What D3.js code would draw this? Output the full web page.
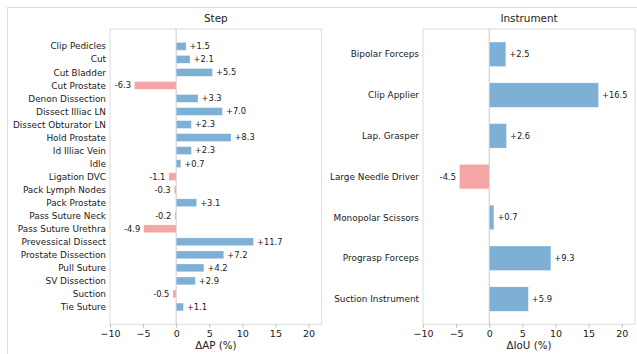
<!DOCTYPE html>
<html>
<head>
<meta charset="utf-8">
<script src="https://cdn.jsdelivr.net/npm/d3@7/dist/d3.min.js"></script>
<style>
  html, body { margin: 0; padding: 0; background: #fff; }
  svg { display: block; font-family: "DejaVu Sans", sans-serif; }
</style>
</head>
<body>
<svg id="chart" width="637" height="354"></svg>
<script>
// Per-phase change in AP
const stepCategories = [
  "Clip Pedicles", "Cut", "Cut Bladder", "Cut Prostate", "Denon Dissection",
  "Dissect Illiac LN", "Dissect Obturator LN", "Hold Prostate", "Id Illiac Vein",
  "Idle", "Ligation DVC", "Pack Lymph Nodes", "Pack Prostate", "Pass Suture Neck",
  "Pass Suture Urethra", "Prevessical Dissect", "Prostate Dissection",
  "Pull Suture", "SV Dissection", "Suction", "Tie Suture"
];
const stepValues = [
  1.5, 2.1, 5.5, -6.3, 3.3, 7.0, 2.3, 8.3, 2.3, 0.7, -1.1, -0.3, 3.1, -0.2,
  -4.9, 11.7, 7.2, 4.2, 2.9, -0.5, 1.1
];

// Per-instrument change in IoU
const instrumentCategories = [
  "Bipolar Forceps", "Clip Applier", "Lap. Grasper", "Large Needle Driver",
  "Monopolar Scissors", "Prograsp Forceps", "Suction Instrument"
];
const instrumentValues = [2.5, 16.5, 2.6, -4.5, 0.7, 9.3, 5.9];

const xTicks = [-10, -5, 0, 5, 10, 15, 20];
const xDomain = [-10, 22];

const svg = d3.select("#chart");

// outer figure frame
svg.append("rect")
  .attr("x", 7.5).attr("y", 7.5)
  .attr("width", 700).attr("height", 400)
  .attr("fill", "none").attr("stroke", "#dedede").attr("stroke-width", 1);

const POS = "#7eb0d6", NEG = "#f4a6a6";
const INK = "#1a1a1a";
const fmt = v => (v > 0 ? "+" : "") + v.toFixed(1);

function panel(opts) {
  const { left, right, top, bottom, cats, vals, title, xlabel, outerPad } = opts;
  const g = svg.append("g");

  const x = d3.scaleLinear().domain(xDomain).range([left, right]);
  const y = d3.scaleBand().domain(cats).range([top, bottom])
    .paddingInner(0.4).paddingOuter(outerPad);

  // frame
  g.append("rect")
    .attr("x", left).attr("y", top)
    .attr("width", right - left).attr("height", bottom - top)
    .attr("fill", "none").attr("stroke", "#dcdcdc").attr("stroke-width", 1);

  // zero line
  g.append("line")
    .attr("x1", x(0)).attr("x2", x(0))
    .attr("y1", top).attr("y2", bottom)
    .attr("stroke", "#c8c8c8").attr("stroke-width", 1);

  // bars
  g.selectAll("rect.bar").data(cats).join("rect")
    .attr("class", "bar")
    .attr("x", (d, i) => x(Math.min(0, vals[i])))
    .attr("y", d => y(d))
    .attr("width", (d, i) => Math.abs(x(vals[i]) - x(0)))
    .attr("height", y.bandwidth())
    .attr("fill", (d, i) => vals[i] >= 0 ? POS : NEG)
    .attr("stroke", "#ffffff").attr("stroke-opacity", 0.5).attr("stroke-width", 0.6);

  // value labels
  g.selectAll("text.val").data(cats).join("text")
    .attr("class", "val")
    .attr("x", (d, i) => x(vals[i]) + (vals[i] >= 0 ? 3.5 : -3.5))
    .attr("y", d => y(d) + y.bandwidth() / 2)
    .attr("dy", "0.35em")
    .attr("text-anchor", (d, i) => vals[i] >= 0 ? "start" : "end")
    .attr("font-size", 8.3)
    .attr("fill", INK)
    .text((d, i) => fmt(vals[i]));

  // category labels
  g.selectAll("text.cat").data(cats).join("text")
    .attr("class", "cat")
    .attr("x", left - 4)
    .attr("y", d => y(d) + y.bandwidth() / 2)
    .attr("dy", "0.35em")
    .attr("text-anchor", "end")
    .attr("font-size", 8.9)
    .attr("fill", INK)
    .text(d => d);

  // x axis
  const ax = g.append("g")
    .attr("transform", `translate(0,${bottom})`)
    .call(d3.axisBottom(x).tickValues(xTicks).tickSize(3.5).tickPadding(2.5)
      .tickFormat(d => d < 0 ? "\u2212" + Math.abs(d) : String(d)));
  ax.select(".domain").remove();
  ax.selectAll(".tick line").attr("stroke", "#bdbdbd");
  ax.selectAll(".tick text").attr("font-size", 9.5).attr("fill", INK)
    .attr("font-family", "DejaVu Sans, sans-serif");

  // title
  g.append("text")
    .attr("x", (left + right) / 2).attr("y", 18)
    .attr("dy", "0.35em")
    .attr("text-anchor", "middle")
    .attr("font-size", 10.4).attr("fill", INK)
    .text(title);

  // x label
  g.append("text")
    .attr("x", (left + right) / 2).attr("y", 345.5)
    .attr("dy", "0.35em")
    .attr("text-anchor", "middle")
    .attr("font-size", 10.3).attr("fill", INK)
    .text(xlabel);
}

panel({
  left: 110, right: 321.7, top: 29, bottom: 324.3,
  cats: stepCategories, vals: stepValues,
  title: "Step", xlabel: "\u0394AP (%)", outerPad: 1.03
});

panel({
  left: 423, right: 635, top: 29, bottom: 324.3,
  cats: instrumentCategories, vals: instrumentValues,
  title: "Instrument", xlabel: "\u0394IoU (%)", outerPad: 0.32
});
</script>
</body>
</html>
